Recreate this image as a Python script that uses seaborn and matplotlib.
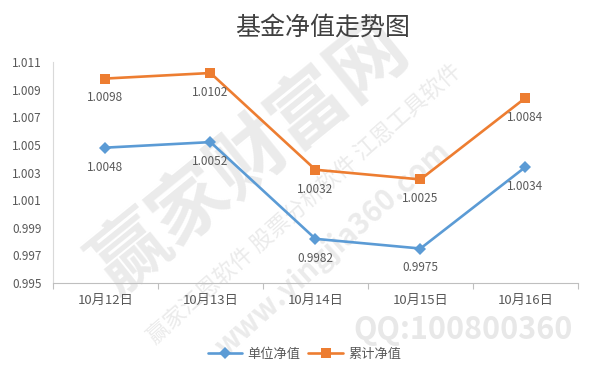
import matplotlib
matplotlib.use("Agg")
import matplotlib.pyplot as plt
import seaborn as sns
import pandas as pd

categories = ["10月12日", "10月13日", "10月14日", "10月15日", "10月16日"]
unit_nav = [1.0048, 1.0052, 0.9982, 0.9975, 1.0034]
cum_nav = [1.0098, 1.0102, 1.0032, 1.0025, 1.0084]
series_names = ["单位净值", "累计净值"]
y_ticks = [0.995, 0.997, 0.999, 1.001, 1.003, 1.005, 1.007, 1.009, 1.011]

sns.set_theme(style="white")
plt.rcParams['font.family'] = ['Noto Sans CJK SC', 'DejaVu Sans']

rows = []
for i, c in enumerate(categories):
    rows.append({"x": i, "cat": c, "value": unit_nav[i], "series": series_names[0]})
    rows.append({"x": i, "cat": c, "value": cum_nav[i], "series": series_names[1]})
df = pd.DataFrame(rows)

colors = {series_names[0]: "#5B9BD5", series_names[1]: "#ED7D31"}
markers = {series_names[0]: "D", series_names[1]: "s"}
text_gray = "#595959"

fig = plt.figure(figsize=(6.09, 3.71), dpi=100)
ax = fig.add_axes([0.087, 0.237, 0.862, 0.596])
ax.set_facecolor("none")

# watermarks (behind everything)
wm = "#EBEBEB"
fig.text(0.41, 0.575, "赢家财富网", fontsize=55, color=wm, rotation=39,
         ha="center", va="center", fontweight="bold", zorder=-5)
fig.text(0.50, 0.45, "赢家江恩软件 股票分析软件 江恩工具软件", fontsize=16, color=wm,
         rotation=41.5, ha="center", va="center", zorder=-5)
fig.text(0.545, 0.33, "www.yingjia360.com", fontsize=21, color=wm, rotation=42,
         ha="center", va="center", fontweight="bold", zorder=-5)
fig.text(0.76, 0.11, "QQ:100800360", fontsize=22, color="#E8E8E8",
         ha="center", va="center", fontweight="bold", zorder=-5)

sns.lineplot(data=df, x="x", y="value", hue="series", style="series",
             palette=colors, markers=markers, dashes=False, linewidth=1.9,
             markersize=6.5, markeredgewidth=0, ax=ax, legend=True)

for l in ax.lines:
    if l.get_marker() == "s":
        l.set_markersize(7)

for vals in (unit_nav, cum_nav):
    for i, v in enumerate(vals):
        ax.annotate(f"{v:.4f}", (i, v), xytext=(0, -14), textcoords="offset points",
                    ha="center", va="center", fontsize=8.5, color=text_gray)

ax.set_xlim(-0.5, 4.5)
ax.set_ylim(0.995, 1.011)
ax.set_yticks(y_ticks)
ax.set_yticklabels([f"{t:.3f}" for t in y_ticks], fontsize=8.5, color=text_gray)
ax.set_xticks(range(len(categories)))
ax.set_xticklabels(categories, fontsize=9.5, color=text_gray)
ax.set_xticks([-0.5, 0.5, 1.5, 2.5, 3.5, 4.5], minor=True)
ax.tick_params(axis="x", which="major", length=0, pad=8)
ax.tick_params(axis="x", which="minor", length=4, color="#BFBFBF", width=0.8, bottom=True)
ax.tick_params(axis="y", length=0, pad=8)
ax.set_xlabel("")
ax.set_ylabel("")
for sp in ["top", "right"]:
    ax.spines[sp].set_visible(False)
ax.spines["left"].set_color("#D9D9D9")
ax.spines["bottom"].set_color("#BFBFBF")
ax.spines["left"].set_linewidth(0.8)
ax.spines["bottom"].set_linewidth(0.8)

fig.text(0.529, 0.925, "基金净值走势图", fontsize=18, color="#404040", ha="center", va="center")

h, lab = ax.get_legend_handles_labels()
ax.legend(h, lab, loc="center", bbox_to_anchor=(0.5, 0.045), bbox_transform=fig.transFigure,
          ncol=2, frameon=False, fontsize=9.5, labelcolor=text_gray, handlelength=2.6,
          columnspacing=0.6, handletextpad=0.4)

fig.savefig("out.png", dpi=100)
